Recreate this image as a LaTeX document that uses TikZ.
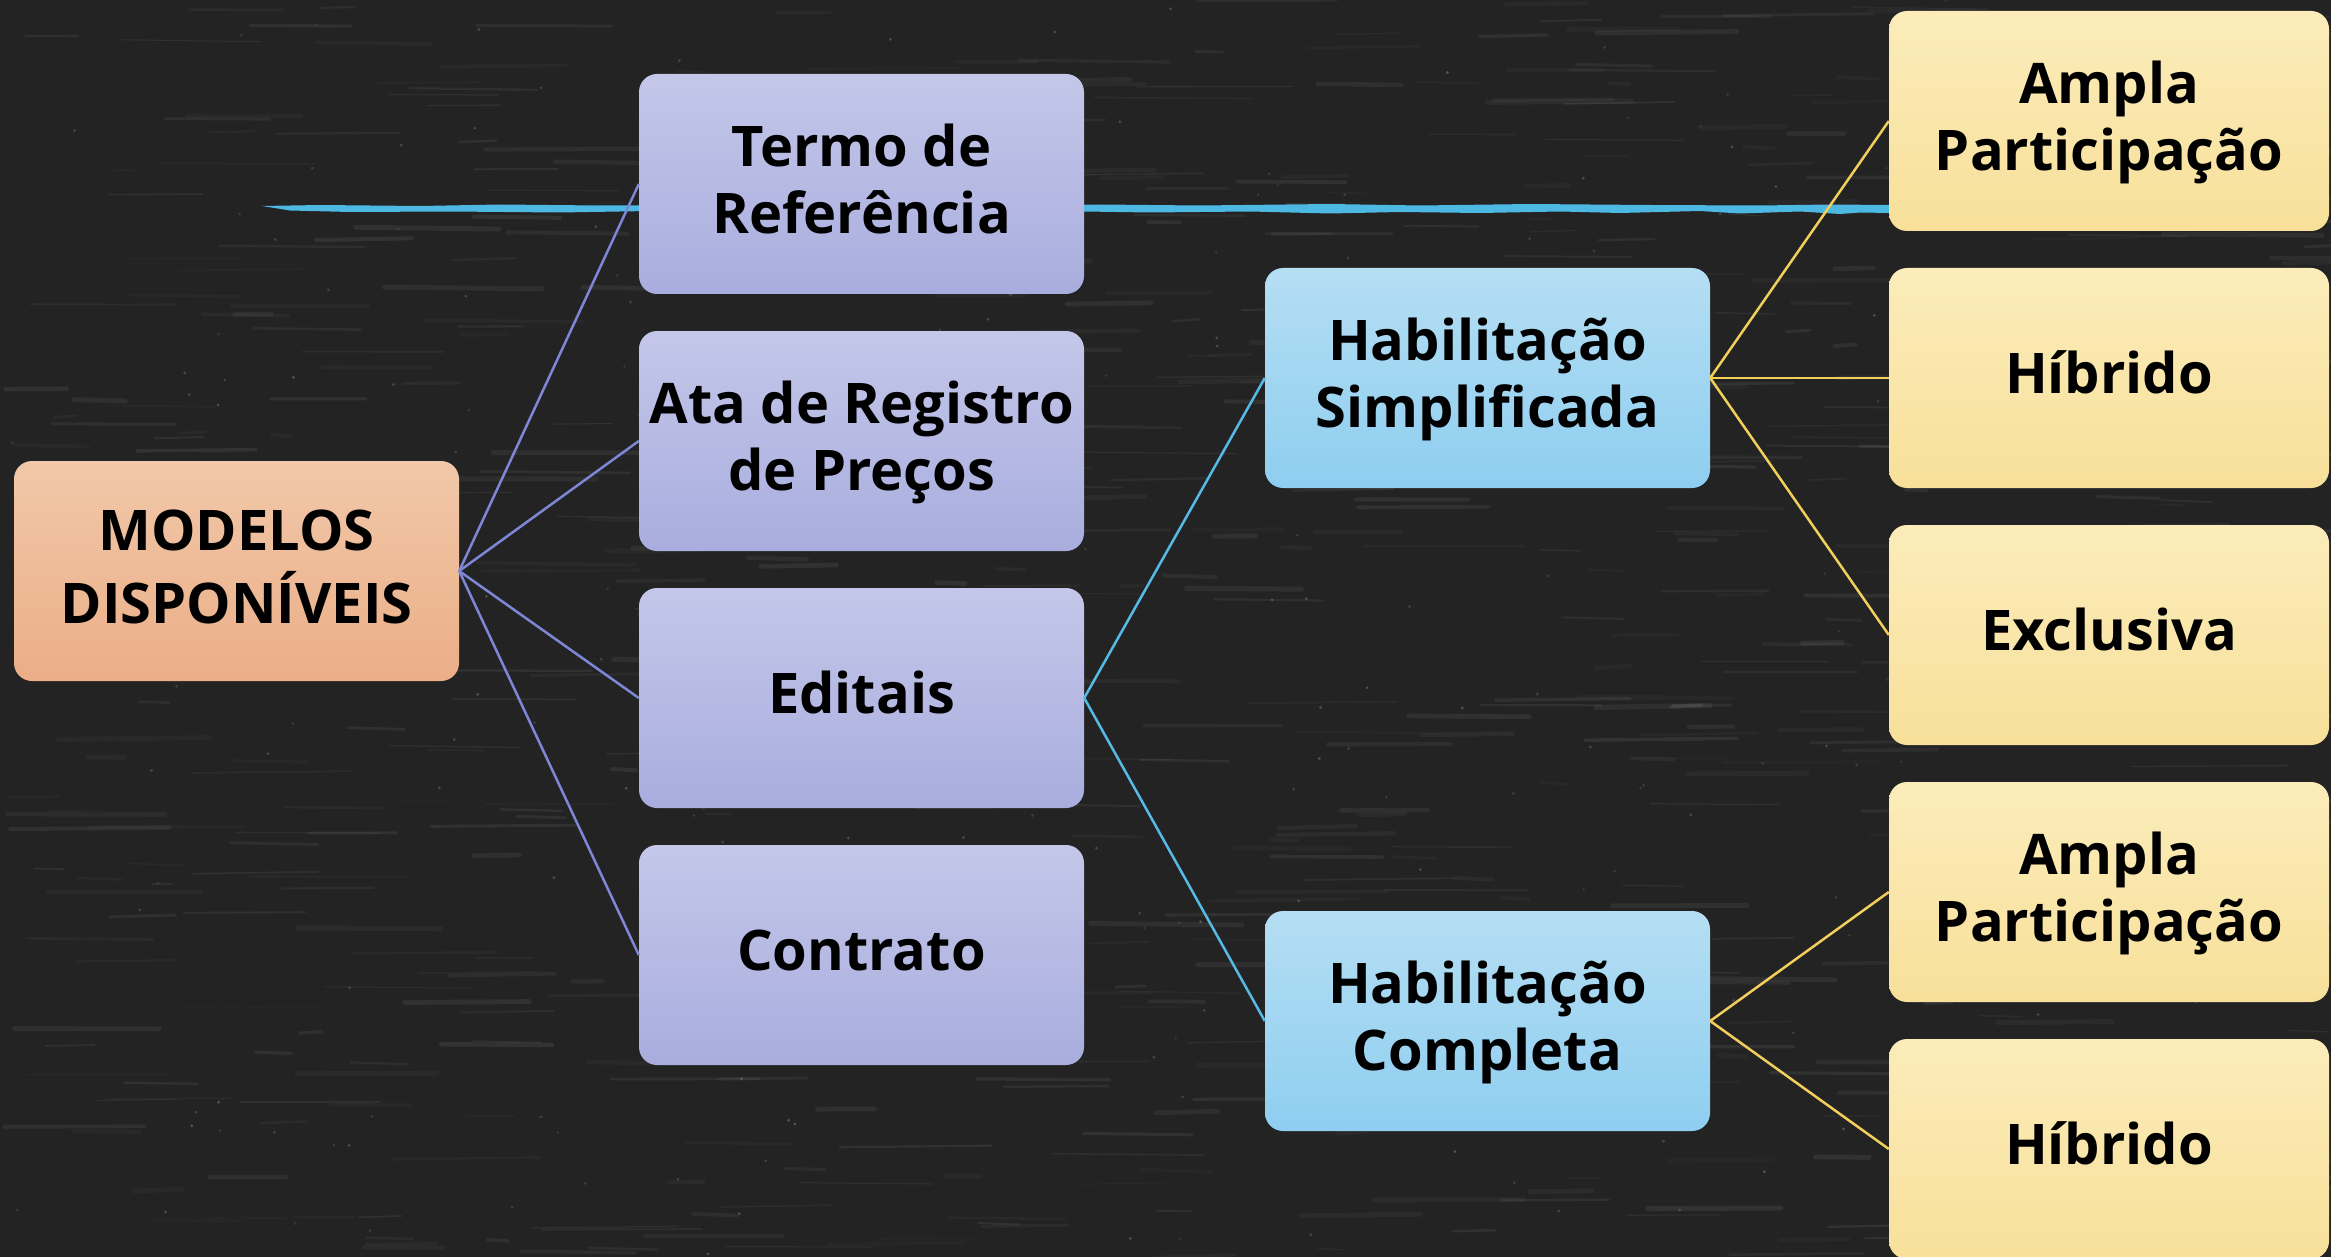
\documentclass[tikz,border=0pt]{standalone}
\usepackage{fontspec}
\setmainfont{Open Sans}
\newcommand{\boxtext}[1]{\raisebox{-2.5pt}[\height][\depth]{\begin{tabular}{@{}c@{}}#1\end{tabular}}}
\begin{document}
\begin{tikzpicture}[x=1pt,y=-1pt,
  boxbase/.style={rounded corners=18pt, minimum width=445pt, minimum height=220pt, inner sep=0pt, align=center,
    font=\fontsize{56}{67}\selectfont\bfseries, text=black},
  orangebox/.style={boxbase, shading=axis, top color=orangetop, bottom color=orangebot},
  purplebox/.style={boxbase, shading=axis, top color=purpletop, bottom color=purplebot},
  bluebox/.style={boxbase, shading=axis, top color=bluetop, bottom color=bluebot},
  yellowbox/.style={boxbase, minimum width=440pt, shading=axis, top color=yellowtop, bottom color=yellowbot},
  plink/.style={draw=plinecol, line width=2.5pt},
  blink/.style={draw=blinecol, line width=2.5pt},
  ylink/.style={draw=ylinecol, line width=2.5pt},
  streak/.style={draw=white, line cap=round}]
\definecolor{bgcol}{HTML}{232323}
\definecolor{orangetop}{HTML}{F1C8A9}
\definecolor{orangebot}{HTML}{EBAE87}
\definecolor{purpletop}{HTML}{C4C7E9}
\definecolor{purplebot}{HTML}{A8ADDE}
\definecolor{bluetop}{HTML}{B5DEF3}
\definecolor{bluebot}{HTML}{8ECEF0}
\definecolor{yellowtop}{HTML}{FBECBA}
\definecolor{yellowbot}{HTML}{F8E09A}
\definecolor{plinecol}{HTML}{7E87D6}
\definecolor{blinecol}{HTML}{55BBE6}
\definecolor{ylinecol}{HTML}{F2CF5B}
\definecolor{brushblue}{HTML}{4DB8E2}
\clip (0,0) rectangle (2331,1257);
\fill[bgcol] (0,0) rectangle (2331,1257);
% chalkboard texture
\pgfmathsetseed{4242}
\foreach \i in {1,...,700}{
  \pgfmathsetmacro{\sx}{rnd*2331}
  \pgfmathsetmacro{\sy}{rnd*1257}
  \pgfmathsetmacro{\sl}{20+rnd*140}
  \pgfmathsetmacro{\sw}{1+rnd*4}
  \pgfmathsetmacro{\so}{0.02+rnd*0.05}
  \draw[streak, line width=\sw pt, opacity=\so] (\sx,\sy) -- ++(\sl,rnd*4-2);
}
\foreach \i in {1,...,250}{
  \pgfmathsetmacro{\sx}{rnd*2331}
  \pgfmathsetmacro{\sy}{rnd*1257}
  \pgfmathsetmacro{\so}{0.08+rnd*0.15}
  \fill[white, opacity=\so] (\sx,\sy) circle (1.5pt);
}
% brush stroke
\fill[brushblue] (262,206) -- (320,205) -- (420,206) -- (500,204.5) -- (600,205.5) -- (700,205) -- (800,205.5) -- (900,204) -- (1000,205) -- (1100,204.5) -- (1200,205.5) -- (1330,204) -- (1420,205.5) -- (1530,204) -- (1650,205) -- (1760,205.5) -- (1830,204.5) -- (1891,205)
  -- (1891,213) -- (1860,212.5) -- (1840,214) -- (1800,211.5) -- (1740,213.5) -- (1700,211) -- (1620,213) -- (1560,211.5) -- (1480,213) -- (1400,212) -- (1330,213.5) -- (1250,211.5) -- (1150,212.5) -- (1050,211) -- (950,212.5) -- (850,211.5) -- (750,212.5) -- (650,211) -- (560,212.5) -- (450,211.5) -- (350,212) -- (290,210.5) -- cycle;
% nodes
\node[orangebox] (modelos) at (236.5,571) {\boxtext{MODELOS\\DISPONÍVEIS}};
\node[purplebox] (termo) at (861.5,184) {\boxtext{Termo de\\Referência}};
\node[purplebox] (ata) at (861.5,441) {\boxtext{Ata de Registro\\de Preços}};
\node[purplebox] (editais) at (861.5,698) {\boxtext{Editais}};
\node[purplebox] (contrato) at (861.5,955) {\boxtext{Contrato}};
\node[bluebox] (simp) at (1487.5,378) {\boxtext{Habilitação\\Simplificada}};
\node[bluebox] (comp) at (1487.5,1021) {\boxtext{Habilitação\\Completa}};
\node[yellowbox] (ampla1) at (2109,121) {\boxtext{Ampla\\Participação}};
\node[yellowbox] (hib1) at (2109,378) {\boxtext{Híbrido}};
\node[yellowbox] (excl) at (2109,635) {\boxtext{Exclusiva}};
\node[yellowbox] (ampla2) at (2109,892) {\boxtext{Ampla\\Participação}};
\node[yellowbox] (hib2) at (2109,1149) {\boxtext{Híbrido}};
% connectors
\draw[plink] (modelos.east) -- (termo.west);
\draw[plink] (modelos.east) -- (ata.west);
\draw[plink] (modelos.east) -- (editais.west);
\draw[plink] (modelos.east) -- (contrato.west);
\draw[blink] (editais.east) -- (simp.west);
\draw[blink] (editais.east) -- (comp.west);
\draw[ylink] (simp.east) -- (ampla1.west);
\draw[ylink] (simp.east) -- (hib1.west);
\draw[ylink] (simp.east) -- (excl.west);
\draw[ylink] (comp.east) -- (ampla2.west);
\draw[ylink] (comp.east) -- (hib2.west);
\end{tikzpicture}
\end{document}
